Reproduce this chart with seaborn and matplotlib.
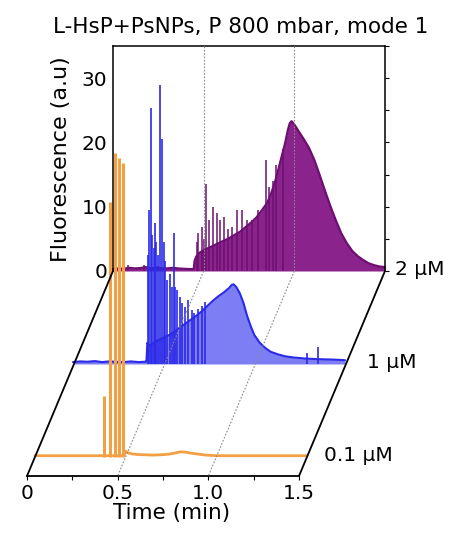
import matplotlib
matplotlib.use("Agg")
import matplotlib.pyplot as plt
from matplotlib.transforms import offset_copy, IdentityTransform
from matplotlib.lines import Line2D
from matplotlib.ticker import MultipleLocator
import seaborn as sns

# ---------------- data ----------------
title = "L-HsP+PsNPs, P 800 mbar, mode 1"
conc_labels = ["2 µM", "1 µM", "0.1 µM"]
y_ticks = [0, 10, 20, 30]
x_ticks = [0, 0.5, 1.0, 1.5]
x_ticklabels = ["0", "0.5", "1.0", "1.5"]
guide_times = [0.5, 1.0]

# 2 µM : envelope (time min, fluorescence) and spikes
trace_2uM = [(0.00, 0.3), (0.03, 0.4), (0.06, 0.35), (0.09, 0.5), (0.12, 0.4), (0.15, 0.45),
             (0.18, 0.6), (0.21, 0.4), (0.24, 0.5), (0.27, 0.45), (0.30, 0.4), (0.33, 0.5),
             (0.36, 0.4), (0.39, 0.35), (0.42, 0.3), (0.445, 0.3), (0.45, 1.6), (0.46, 2.3),
             (0.47, 2.6), (0.48, 2.9), (0.50, 3.2), (0.52, 3.5), (0.55, 3.9), (0.58, 4.3),
             (0.61, 4.7), (0.64, 5.1), (0.67, 5.6), (0.70, 6.1), (0.73, 6.8), (0.76, 7.5),
             (0.79, 8.3), (0.82, 9.4), (0.85, 10.6), (0.87, 11.9), (0.89, 13.5), (0.91, 15.6),
             (0.93, 17.8), (0.95, 20.0), (0.965, 22.0), (0.975, 23.0), (0.985, 23.3),
             (1.00, 22.8), (1.02, 21.9), (1.05, 20.6), (1.08, 19.2), (1.11, 17.3), (1.14, 14.9),
             (1.17, 12.4), (1.20, 10.0), (1.23, 7.8), (1.26, 5.8), (1.29, 4.3), (1.32, 3.1),
             (1.35, 2.3), (1.38, 1.7), (1.41, 1.2), (1.44, 0.9), (1.47, 0.7), (1.50, 0.6)]
spikes_2uM = [(0.08, 0.9), (0.17, 1.0), (0.25, 0.8), (0.462, 4.5), (0.47, 5.9), (0.489, 6.9),
              (0.50, 5.0), (0.511, 13.5), (0.53, 7.9), (0.552, 10.0), (0.572, 9.0), (0.59, 7.9),
              (0.612, 8.4), (0.635, 6.5), (0.655, 6.9), (0.686, 9.5), (0.713, 9.5), (0.74, 8.0),
              (0.767, 7.9), (0.80, 9.5), (0.842, 17.3), (0.86, 13.0), (0.88, 14.0), (0.90, 16.5),
              (0.94, 19.0)]

# 1 µM
trace_1uM = [(0.00, 0.3), (0.04, 0.4), (0.08, 0.35), (0.12, 0.45), (0.16, 0.3), (0.20, 0.4),
             (0.24, 0.35), (0.28, 0.3), (0.32, 0.4), (0.36, 0.3), (0.40, 0.35), (0.405, 0.4),
             (0.41, 3.3), (0.42, 2.8), (0.44, 3.2), (0.47, 3.7), (0.50, 4.1), (0.53, 4.5),
             (0.56, 5.0), (0.59, 5.7), (0.62, 6.3), (0.65, 6.9), (0.68, 7.5), (0.71, 8.2),
             (0.74, 9.0), (0.77, 9.8), (0.80, 10.5), (0.83, 11.1), (0.86, 11.8), (0.875, 12.3),
             (0.885, 12.4), (0.90, 12.0), (0.92, 11.0), (0.94, 9.5), (0.96, 7.5), (0.98, 5.9),
             (1.00, 4.5), (1.03, 3.3), (1.06, 2.5), (1.09, 1.9), (1.13, 1.5), (1.17, 1.2),
             (1.22, 1.0), (1.28, 0.85), (1.35, 0.75), (1.42, 0.7), (1.50, 0.6)]
spikes_1uM = [(0.412, 17), (0.42, 24), (0.43, 39.8), (0.437, 20), (0.445, 18), (0.452, 22),
              (0.46, 19), (0.468, 17), (0.48, 43.4), (0.49, 35), (0.50, 19), (0.51, 16),
              (0.52, 13), (0.535, 14), (0.545, 12), (0.557, 20.4), (0.565, 12), (0.575, 11.5),
              (0.59, 10.4), (0.60, 9.5), (0.62, 8.9), (0.635, 10), (0.655, 8.4), (0.67, 8.0),
              (0.69, 8.6), (0.71, 9.0), (0.73, 9.6), (1.29, 1.7), (1.35, 2.6)]

# 0.1 µM
trace_01uM = [(0.00, 0.2), (0.10, 0.2), (0.20, 0.2), (0.30, 0.2), (0.37, 0.2), (0.49, 0.2),
              (0.50, 0.9), (0.51, 0.7), (0.53, 0.5), (0.56, 0.4), (0.60, 0.35), (0.65, 0.3),
              (0.70, 0.35), (0.74, 0.45), (0.77, 0.6), (0.80, 0.8), (0.83, 0.75), (0.86, 0.6),
              (0.90, 0.45), (0.94, 0.3), (1.00, 0.2), (1.10, 0.2), (1.20, 0.2), (1.30, 0.2),
              (1.40, 0.2), (1.50, 0.2)]
spikes_01uM = [(0.38, 9.5), (0.414, 39.7), (0.441, 47.3), (0.463, 46.5), (0.485, 45.7)]

# ---------------- style ----------------
sns.set_theme(style="white")
plt.rcParams["font.family"] = ["DejaVu Sans"]
plt.rcParams["axes.unicode_minus"] = False
FS = 14.5

W, H = 451, 535
fig = plt.figure(figsize=(W / 100, H / 100), dpi=100)
fig.patch.set_facecolor("white")

# back plane axes (2 µM)
ax = fig.add_axes([113 / W, 1 - 271 / H, 272 / W, 225 / H])
ax.set_facecolor("none")
ax.set_xlim(0, 1.5)
ax.set_ylim(0, 35)

# depth offsets in pixels (dx, dy) for each trace row and the front edge
offsets = {"2 µM": (0, 0), "1 µM": (-40, -93), "0.1 µM": (-78, -186)}
front_off = (-86, -205)
label_dx = {"2 µM": 10, "1 µM": 22, "0.1 µM": 17}

styles = {
    "2 µM": dict(line="#6c0f70", fill="#8a238c", lw=1.6, spk_lw=1.1, z=2),
    "1 µM": dict(line="#2a2ae8", fill="#7e7ef4", lw=1.5, spk_lw=1.2, z=3),
    "0.1 µM": dict(line="#f3a044", fill=None, lw=2.0, spk_lw=2.2, z=4),
}
data = {"2 µM": (trace_2uM, spikes_2uM),
        "1 µM": (trace_1uM, spikes_1uM),
        "0.1 µM": (trace_01uM, spikes_01uM)}

for lab in conc_labels:
    dx, dy = offsets[lab]
    tr = offset_copy(ax.transData, fig=fig, x=dx, y=dy, units="dots")
    trace, spikes = data[lab]
    st = styles[lab]
    tt = [p[0] for p in trace]
    ff = [p[1] for p in trace]
    if st["fill"] is not None:
        ax.fill_between(tt, 0, ff, color=st["fill"], lw=0, transform=tr,
                        clip_on=False, zorder=st["z"])
    st_t = [p[0] for p in spikes]
    st_h = [p[1] for p in spikes]
    ax.vlines(st_t, 0, st_h, colors=st["line"], lw=st["spk_lw"], transform=tr,
              clip_on=False, zorder=st["z"] + 0.1)
    sns.lineplot(x=tt, y=ff, ax=ax, color=st["line"], lw=st["lw"], transform=tr,
                 clip_on=False, zorder=st["z"] + 0.2, estimator=None, sort=False)
    ax.text(1.5, 0.3, lab, transform=offset_copy(tr, fig=fig, x=label_dx[lab], y=0, units="dots"),
            ha="left", va="center", fontsize=FS, color="black")

ax.set_xlim(0, 1.5)
ax.set_ylim(0, 35)

# spines / ticks of back plane
ax.spines["bottom"].set_visible(False)
for s in ["left", "right", "top"]:
    ax.spines[s].set_color("black")
    ax.spines[s].set_linewidth(1.1)
ax.set_xticks([])
ax.set_yticks(y_ticks)
ax.set_yticklabels([str(v) for v in y_ticks])
ax.yaxis.set_minor_locator(MultipleLocator(5))
ax.tick_params(axis="y", which="both", left=False, right=True, labelleft=True,
               labelright=False, direction="out", length=3, width=0.8,
               labelsize=FS, pad=1, colors="black")
ax.set_ylabel("")

# guide dotted lines on back wall
for gt in guide_times:
    ax.axvline(gt, color="#8a8a8a", lw=0.8, ls=(0, (1.5, 1.5)), zorder=6)

# floor lines (computed through the library transforms)
tr_front = offset_copy(ax.transData, fig=fig, x=front_off[0], y=front_off[1], units="dots")
def floor_line(t, **kw):
    b = ax.transData.transform((t, 0))
    f = tr_front.transform((t, 0))
    fig.add_artist(Line2D([b[0], f[0]], [b[1], f[1]], transform=IdentityTransform(), **kw))

for gt in guide_times:
    floor_line(gt, color="#8a8a8a", lw=0.8, ls=(0, (1.5, 1.5)), zorder=6)
floor_line(0.0, color="black", lw=1.3, zorder=7)
floor_line(1.5, color="black", lw=1.3, zorder=7)

# front time axis
b0 = tr_front.transform((0, 0))
b1 = tr_front.transform((1.5, 0))
ax2 = fig.add_axes([b0[0] / W, b0[1] / H, (b1[0] - b0[0]) / W, 0.0001])
ax2.set_facecolor("none")
ax2.set_xlim(0, 1.5)
ax2.set_yticks([])
for s in ["left", "right", "top"]:
    ax2.spines[s].set_visible(False)
ax2.spines["bottom"].set_color("black")
ax2.spines["bottom"].set_linewidth(1.3)
ax2.set_xticks(x_ticks)
ax2.set_xticklabels(x_ticklabels)
ax2.xaxis.set_minor_locator(MultipleLocator(0.25))
ax2.tick_params(axis="x", which="both", bottom=True, direction="out", length=3,
                width=0.8, labelsize=FS, pad=3, colors="black")

# texts
fig.text(241 / W, 1 - 27 / H, title, ha="center", va="center", fontsize=15.5, color="black")
fig.text(61 / W, 1 - 159 / H, "Fluorescence (a.u)", rotation=90, ha="center", va="center",
         fontsize=16, color="black")
fig.text(172 / W, 1 - 513 / H, "Time (min)", ha="center", va="center", fontsize=15.5,
         color="black")

fig.savefig("out.png", dpi=100, facecolor="white")
